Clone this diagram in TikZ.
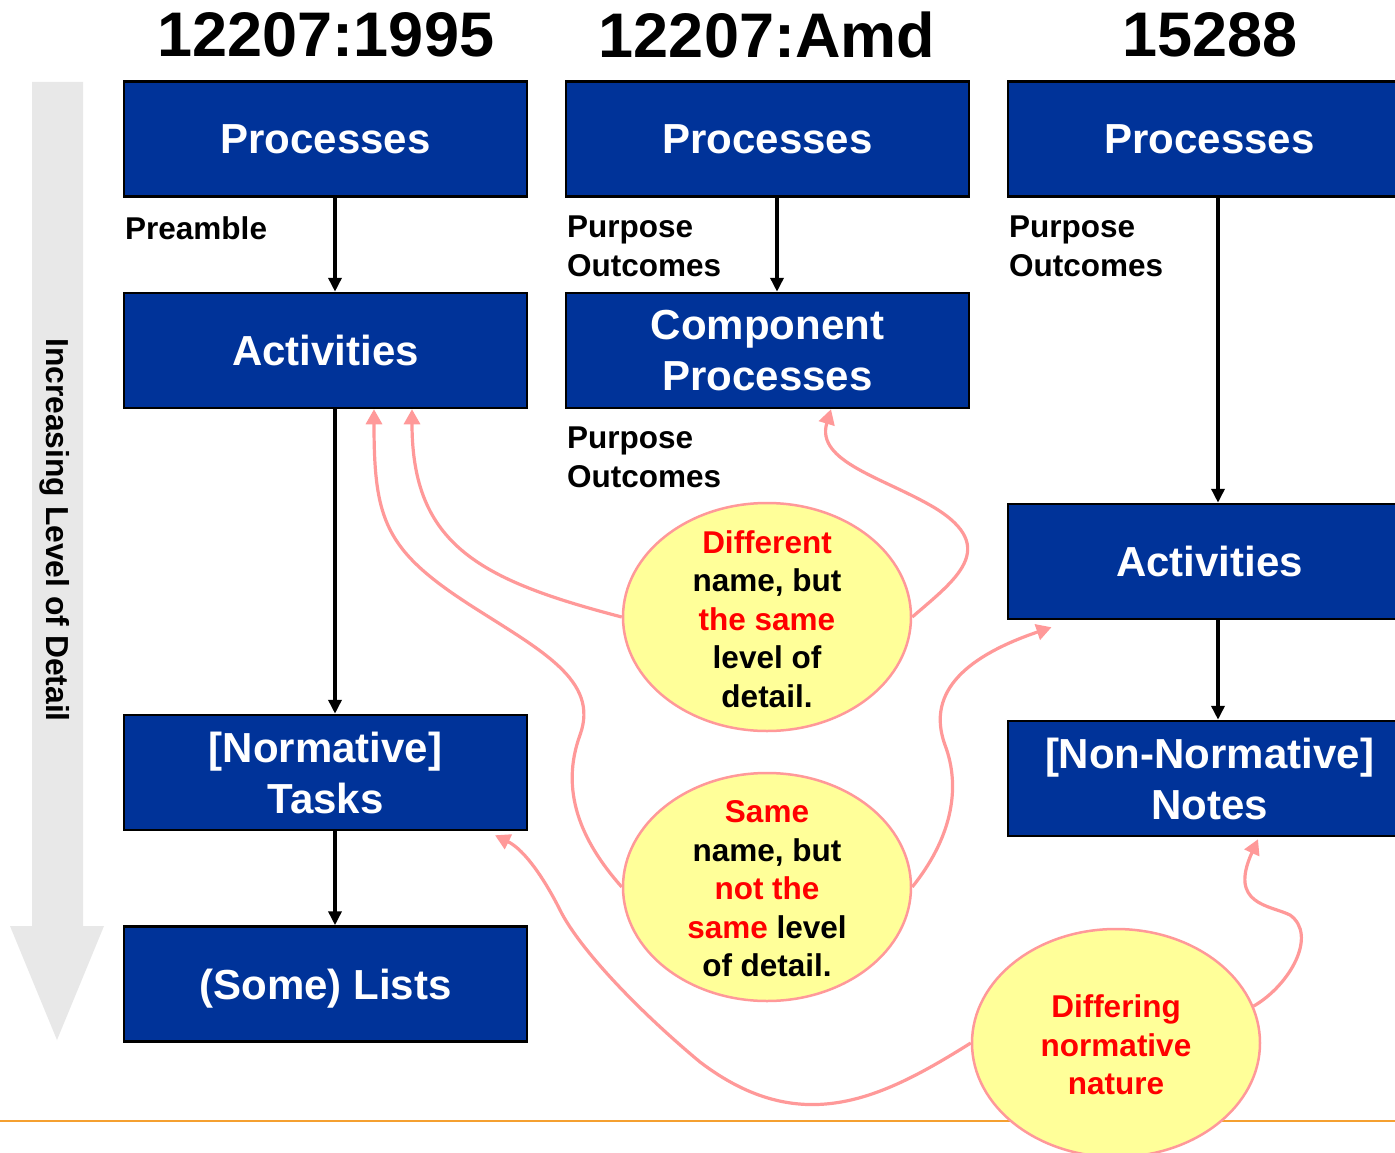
\documentclass[tikz,border=0pt]{standalone}
\usepackage{fontspec}
\setmainfont{Liberation Sans}
\usetikzlibrary{shapes.geometric,arrows.meta}
\definecolor{boxblue}{HTML}{003399}
\definecolor{pinkline}{HTML}{FF9999}
\definecolor{yel}{HTML}{FFFF99}
\definecolor{orangeline}{HTML}{F5A030}
\definecolor{grayarrow}{HTML}{E8E8E8}
\definecolor{redtxt}{HTML}{FF0000}
\begin{document}
\begin{tikzpicture}[x=1pt,y=-1pt,
  box/.style={draw=black, line width=2.5pt, fill=boxblue, text=white,
    minimum width=403pt, minimum height=115pt, inner sep=0pt, align=center,
    font=\fontsize{42}{51}\selectfont\bfseries},
  title/.style={font=\fontsize{63}{70}\selectfont\bfseries, inner sep=0pt},
  lbl/.style={font=\fontsize{31.5}{38.5}\selectfont\bfseries, inner sep=0pt, align=left, anchor=north west},
  bubble/.style={ellipse, draw=pinkline, line width=2.5pt, fill=yel,
    minimum width=288pt, minimum height=228pt, inner sep=0pt},
  bubbletext/.style={inner sep=0pt, align=center,
    font=\fontsize{31.5}{38.5}\selectfont\bfseries},
  blackarrow/.style={line width=4pt, -{Triangle[length=14pt,width=13pt]}},
  pinkarrow/.style={draw=pinkline, line width=3.2pt, -{Triangle[length=15pt,width=16pt]}}
]
\clip (0,0) rectangle (1395,1153);
\fill[white] (0,0) rectangle (1395,1153);

% gray side arrow
\fill[grayarrow] (32,82) -- (83,82) -- (83,926) -- (104,926) -- (57,1040) -- (10,926) -- (32,926) -- cycle;
\node[rotate=-90, font=\fontsize{31.8}{36}\selectfont\bfseries, inner sep=0pt] (side) at (55,530) {Increasing Level of Detail};

% orange footer line
\draw[orangeline, line width=1.5pt] (0,1121) -- (1395,1121);

% titles
\node[title] (t1title) at (326,35) {12207:1995};
\node[title] (t2title) at (767,35) {12207:Amd};
\node[title] (t3title) at (1210,35) {15288};

% boxes
\node[box] (p1) at (325.5,139) {Processes};
\node[box] (a1) at (325.5,350.5) {Activities};
\node[box] (t1) at (325.5,772.5) {[Normative]\\Tasks};
\node[box] (l1) at (325.5,984) {\raisebox{0pt}[\height][0pt]{(Some) Lists}};
\node[box] (p2) at (767.5,139) {Processes};
\node[box] (c2) at (767.5,350.5) {Component\\Processes};
\node[box] (p3) at (1209.5,139) {Processes};
\node[box] (a3) at (1209.5,561.5) {Activities};
\node[box] (n3) at (1209.5,778.5) {[Non-Normative]\\Notes};

% labels
\node[lbl] (pre) at (125,216) {Preamble};
\node[lbl] (po2) at (567,216) {Purpose\\Outcomes};
\node[lbl] (po2b) at (567,427) {Purpose\\Outcomes};
\node[lbl] (po3) at (1009,216) {Purpose\\Outcomes};

% black arrows
\draw[blackarrow] ([xshift=9.5pt]p1.south) -- ([xshift=9.5pt]a1.north);
\draw[blackarrow] ([xshift=9.5pt]a1.south) -- ([xshift=9.5pt]t1.north);
\draw[blackarrow] ([xshift=9.5pt]t1.south) -- ([xshift=9.5pt]l1.north);
\draw[blackarrow] ([xshift=9.5pt]p2.south) -- ([xshift=9.5pt]c2.north);
\draw[blackarrow] ([xshift=8.5pt]p3.south) -- ([xshift=8.5pt]a3.north);
\draw[blackarrow] ([xshift=8.5pt]a3.south) -- ([xshift=8.5pt]n3.north);

% bubbles
\node[bubble] (e1) at (767,617) {};
\node[bubbletext] (e1t) at (767,619) {\textcolor{redtxt}{Different}\\name, but\\\textcolor{redtxt}{the same}\\level of\\detail.};
\node[bubble] (e2) at (767,887) {};
\node[bubbletext] (e2t) at (767,889) {\textcolor{redtxt}{Same}\\name, but\\\textcolor{redtxt}{not the}\\\textcolor{redtxt}{same} level\\of detail.};
\node[bubble] (e3) at (1116,1043) {};
\node[bubbletext] (e3t) at (1116,1045) {\textcolor{redtxt}{Differing}\\\textcolor{redtxt}{normative}\\\textcolor{redtxt}{nature}};

% pink connectors
\draw[pinkarrow] (e1.west) .. controls (480,580) and (412,545) .. ([xshift=86.5pt]a1.south);
\draw[pinkarrow] (e1.east) .. controls (955,580) and (1000,548) .. (935,508)
   .. controls (885,478) and (815,462) .. ([xshift=63.5pt]c2.south);
\draw[pinkarrow] (e2.west) .. controls (580,840) and (560,790) .. (580,735)
   .. controls (600,680) and (540,650) .. (470,605)
   .. controls (385,550) and (374,520) .. ([xshift=48.5pt]a1.south);
\draw[pinkarrow] (e2.east) .. controls (950,840) and (962,790) .. (945,745)
   .. controls (925,690) and (970,655) .. ([xshift=-158pt,yshift=-7pt]a3.south);
\draw[pinkarrow] (e3.west) .. controls (880,1100) and (800,1138) .. (700,1062)
   .. controls (640,1012) and (580,950) .. (560,910)
   .. controls (545,880) and (525,850) .. ([xshift=169.5pt,yshift=-4pt]t1.south);
\draw[pinkarrow] (e3.15) .. controls (1290,985) and (1318,935) .. (1290,915)
   .. controls (1270,905) and (1228,905) .. ([xshift=48.5pt,yshift=-2pt]n3.south);
\end{tikzpicture}
\end{document}
